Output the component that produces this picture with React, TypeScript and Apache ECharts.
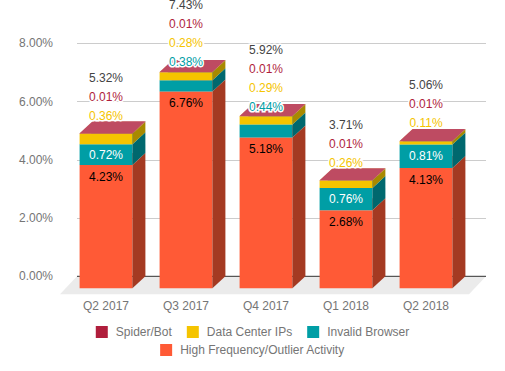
import React, { useEffect, useRef } from "react";
import * as echarts from "echarts";

const categories = ["Q2 2017", "Q3 2017", "Q4 2017", "Q1 2018", "Q2 2018"];
const highFrequency = [4.23, 6.76, 5.18, 2.68, 4.13];
const invalidBrowser = [0.72, 0.38, 0.44, 0.76, 0.81];
const dataCenter = [0.36, 0.28, 0.29, 0.26, 0.11];
const spiderBot = [0.01, 0.01, 0.01, 0.01, 0.01];
const totals = [5.32, 7.43, 5.92, 3.71, 5.06];
const yTicks = [0, 2, 4, 6, 8];

const FONT = "Arial, 'Liberation Sans', sans-serif";
const DX = 13;
const DY = 12;

const segments = [
  { name: "High Frequency/Outlier Activity", values: highFrequency, color: "#ff5a36", side: "#a43a22", top: "#ff8a6e", text: "#000000" },
  { name: "Invalid Browser", values: invalidBrowser, color: "#009ea5", side: "#00686e", top: "#4dbcc1", text: "#009ea5" },
  { name: "Data Center IPs", values: dataCenter, color: "#f5c400", side: "#a88900", top: "#f8d64d", text: "#f5c400" },
  { name: "Spider/Bot", values: spiderBot, color: "#b01e3c", side: "#7a1530", top: "#be4b62", text: "#b01e3c" },
];

const legendOrder = ["Spider/Bot", "Data Center IPs", "Invalid Browser"];

export default function App() {
  const ref = useRef<HTMLDivElement>(null);
  useEffect(() => {
    document.body.style.margin = "0";
    const chart = echarts.init(ref.current!, null, { renderer: "svg" });

    const cum: number[][] = categories.map((_, ci) => {
      let c = 0;
      return segments.map((s) => (c += s.values[ci]));
    });

    const segSeries = segments.map((s, si) => ({
      type: "custom",
      name: s.name,
      xAxisIndex: 1,
      yAxisIndex: 1,
      z: 2,
      itemStyle: { color: s.color },
      data: categories.map((_, ci) => [ci, si === 0 ? 0 : cum[ci][si - 1], cum[ci][si]]),
      renderItem: (params: any, api: any) => {
        const ci = api.value(0);
        const p0 = api.coord([ci, api.value(1)]);
        const p1 = api.coord([ci, api.value(2)]);
        const w = api.size([1, 0])[0] * 0.66;
        const x0 = p0[0] - w / 2;
        const x1 = p0[0] + w / 2;
        const yB = p0[1];
        const yT = p1[1];
        return {
          type: "group",
          children: [
            { type: "rect", shape: { x: x0, y: yT, width: w, height: yB - yT }, style: { fill: s.color } },
            {
              type: "polygon",
              shape: { points: [[x1, yB], [x1 + DX, yB - DY], [x1 + DX, yT - DY], [x1, yT]] },
              style: { fill: s.side },
            },
            {
              type: "polygon",
              shape: { points: [[x0, yT], [x1, yT], [x1 + DX, yT - DY], [x0 + DX, yT - DY]] },
              style: { fill: s.top },
            },
          ],
        };
      },
    }));

    const fmt = (v: number) => v.toFixed(2) + "%";

    const labelSeries = {
      type: "custom",
      name: "labels",
      xAxisIndex: 1,
      yAxisIndex: 1,
      z: 5,
      silent: true,
      data: categories.map((_, ci) => [ci, 0]),
      renderItem: (params: any, api: any) => {
        const ci = api.value(0);
        const tops = cum[ci];
        const cx = api.coord([ci, 0])[0];
        const yOf = (v: number) => api.coord([ci, v])[1];
        const children: any[] = [];
        const txt = (text: string, y: number, fill: string, halo: boolean) => ({
          type: "text",
          x: cx,
          y,
          style: {
            text,
            fill,
            fontSize: 12,
            fontFamily: FONT,
            align: "center",
            verticalAlign: "middle",
            ...(halo ? { stroke: "#ffffff", lineWidth: 3 } : {}),
          },
        });
        children.push(txt(fmt(highFrequency[ci]), yOf(tops[0]) + 12, "#000000", false));
        const outside: { text: string; color: string }[] = [];
        let firstY: number | null = null;
        const tealH = yOf(tops[0]) - yOf(tops[1]);
        if (tealH >= 16) {
          children.push(txt(fmt(invalidBrowser[ci]), (yOf(tops[0]) + yOf(tops[1])) / 2, "#ffffff", false));
        } else {
          outside.push({ text: fmt(invalidBrowser[ci]), color: segments[1].text });
          firstY = yOf(tops[1]) - DY - 6;
        }
        outside.push({ text: fmt(dataCenter[ci]), color: segments[2].text });
        if (firstY === null) firstY = yOf(tops[2]) - DY - 6;
        outside.push({ text: fmt(spiderBot[ci]), color: segments[3].text });
        outside.push({ text: fmt(totals[ci]), color: "#444444" });
        outside.forEach((o, k) => {
          children.push(txt(o.text, (firstY as number) - 19 * k, o.color, true));
        });
        return { type: "group", children };
      },
    };

    const floorSeries = {
      type: "custom",
      name: "floor",
      xAxisIndex: 0,
      yAxisIndex: 0,
      z: 1,
      silent: true,
      data: [[0, 0]],
      renderItem: (params: any, api: any) => {
        const cs = params.coordSys;
        const y0 = api.coord([0, 0])[1];
        const gx = cs.x;
        const gw = cs.width;
        return {
          type: "group",
          children: [
            {
              type: "polygon",
              shape: { points: [[gx, y0], [gx + gw, y0], [gx + gw - 17, y0 + 18], [gx - 17, y0 + 18]] },
              style: { fill: "#ebebeb" },
            },
            { type: "line", shape: { x1: gx, y1: y0, x2: gx + gw, y2: y0 }, style: { stroke: "#333333", lineWidth: 1 } },
          ],
        };
      },
    };

    chart.setOption({
      animation: false,
      textStyle: { fontFamily: FONT },
      grid: [
        { left: 77, right: 19, top: 43.3, bottom: 94.7 },
        { left: 66, width: 400, top: 55.3, height: 233 },
      ],
      xAxis: [
        { type: "category", gridIndex: 0, data: categories, show: false },
        {
          type: "category",
          gridIndex: 1,
          data: categories,
          axisLine: { show: false },
          axisTick: { show: false },
          axisLabel: { color: "#757575", fontSize: 12, margin: 12, fontFamily: FONT },
        },
      ],
      yAxis: [
        {
          type: "value",
          gridIndex: 0,
          min: yTicks[0],
          max: yTicks[yTicks.length - 1],
          interval: yTicks[1] - yTicks[0],
          axisLine: { show: false },
          axisTick: { show: false },
          axisLabel: { color: "#757575", fontSize: 12, margin: 24, fontFamily: FONT, formatter: (v: number) => fmt(v) },
          splitLine: { lineStyle: { color: "#cccccc" } },
        },
        {
          type: "value",
          gridIndex: 1,
          min: yTicks[0],
          max: yTicks[yTicks.length - 1],
          show: false,
          splitLine: { show: false },
        },
      ],
      legend: [
        {
          data: legendOrder,
          top: 321,
          left: "center",
          itemWidth: 12,
          itemHeight: 12,
          itemGap: 15,
          icon: "rect",
          textStyle: { color: "#757575", fontSize: 12, fontFamily: FONT, padding: [0, 0, 0, 3] },
        },
        {
          data: ["High Frequency/Outlier Activity"],
          top: 339,
          left: "center",
          itemWidth: 12,
          itemHeight: 12,
          icon: "rect",
          textStyle: { color: "#757575", fontSize: 12, fontFamily: FONT, padding: [0, 0, 0, 3] },
        },
      ],
      series: [floorSeries, ...segSeries, labelSeries],
    });
    return () => chart.dispose();
  }, []);
  return <div ref={ref} style={{ width: 505, height: 371 }} />;
}
